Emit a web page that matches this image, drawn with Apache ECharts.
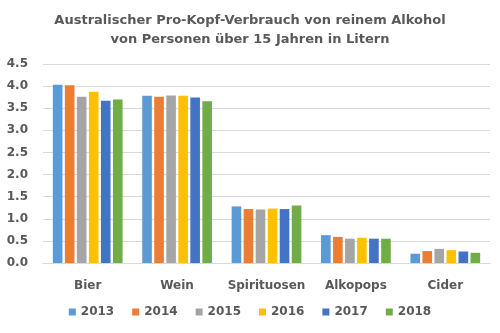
<!DOCTYPE html>
<html><head><meta charset="utf-8">
<script src="https://cdn.jsdelivr.net/npm/echarts@6/dist/echarts.min.js"></script>
<style>html,body{margin:0;padding:0;background:#fff}#c{width:500px;height:333px}</style>
</head><body><div id="c"></div>
<script>
const categories = ['Bier', 'Wein', 'Spirituosen', 'Alkopops', 'Cider'];
const years = ['2013', '2014', '2015', '2016', '2017', '2018'];
const v2013 = [4.03, 3.78, 1.28, 0.63, 0.21];
const v2014 = [4.02, 3.76, 1.22, 0.59, 0.27];
const v2015 = [3.76, 3.79, 1.21, 0.55, 0.32];
const v2016 = [3.87, 3.78, 1.23, 0.57, 0.29];
const v2017 = [3.67, 3.74, 1.22, 0.55, 0.26];
const v2018 = [3.70, 3.66, 1.30, 0.55, 0.23];
const colors = ['#5B9BD5', '#ED7D31', '#A5A5A5', '#FFC000', '#4472C4', '#70AD47'];
const allValues = [v2013, v2014, v2015, v2016, v2017, v2018];
const font = 'DejaVu Sans';
const txt = '#595959';

const chart = echarts.init(document.getElementById('c'));
chart.setOption({
  animation: false,
  color: colors,
  title: {
    text: 'Australischer Pro-Kopf-Verbrauch von reinem Alkohol\nvon Personen über 15 Jahren in Litern',
    left: 245, top: 6, textAlign: 'center',
    textStyle: { fontFamily: font, fontWeight: 'bold', fontSize: 13, color: txt, lineHeight: 19 }
  },
  legend: {
    bottom: 10, left: 'center',
    itemWidth: 7, itemHeight: 7, itemGap: 18,
    icon: 'rect',
    textStyle: { fontFamily: font, fontWeight: 'bold', fontSize: 12, color: txt },
    data: years
  },
  grid: { left: 43, right: 10, top: 64, bottom: 70 },
  xAxis: {
    type: 'category', data: categories,
    axisLine: { lineStyle: { color: '#d9d9d9' } },
    axisTick: { show: false },
    axisLabel: { interval: 0, fontFamily: font, fontWeight: 'bold', fontSize: 12, color: txt, margin: 17 }
  },
  yAxis: {
    type: 'value', min: 0, max: 4.5, interval: 0.5,
    axisLabel: { fontFamily: font, fontWeight: 'bold', fontSize: 12, color: txt, margin: 15,
      formatter: v => v.toFixed(1) },
    splitLine: { lineStyle: { color: '#d9d9d9' } },
    axisLine: { show: false }, axisTick: { show: false }
  },
  series: years.map((y, i) => ({
    name: y, type: 'bar', data: allValues[i],
    barGap: '25%', barCategoryGap: '22%'
  }))
});
</script></body></html>
